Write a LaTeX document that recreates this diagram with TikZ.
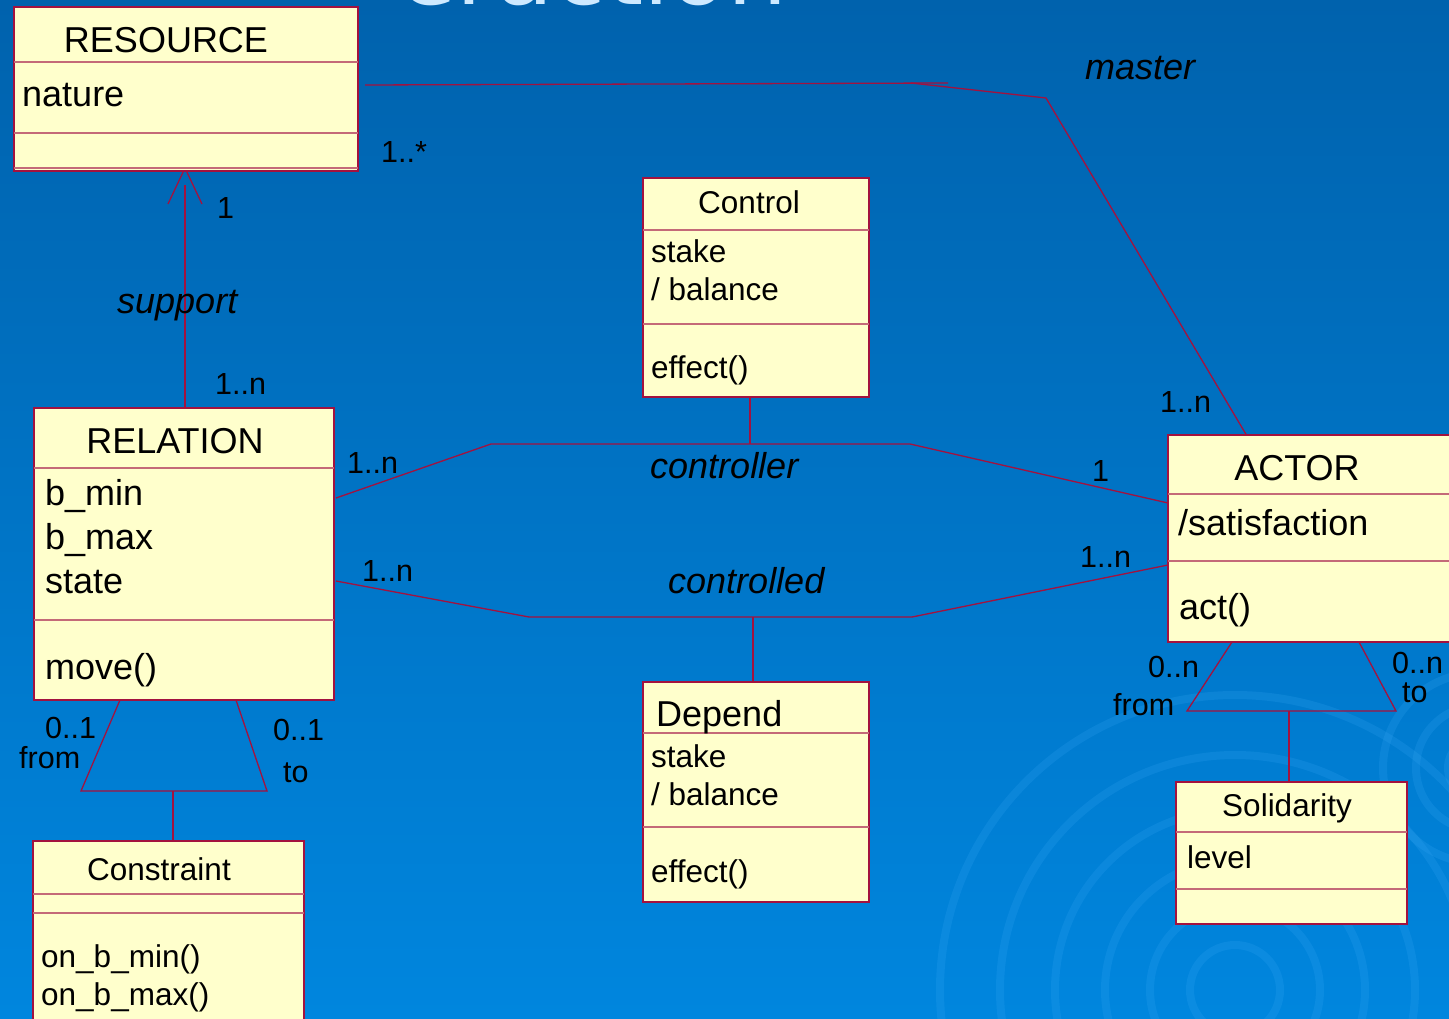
\documentclass[tikz,border=0pt]{standalone}
\usepackage{fontspec}
\setmainfont{Liberation Sans}
\newfontfamily\titlefont{DejaVu Sans}
\definecolor{umlred}{HTML}{A3123F}
\definecolor{sepred}{HTML}{C46A78}
\definecolor{umlfill}{HTML}{FFFFCC}
\definecolor{bgtop}{HTML}{0062AD}
\definecolor{bgbot}{HTML}{0086DE}
\definecolor{ringc}{HTML}{3AA8F5}
\definecolor{titlec}{HTML}{CDE9FF}
\tikzset{
  umlbox/.style={draw=umlred, fill=umlfill, line width=1.4pt, inner sep=0pt, outer sep=0pt, anchor=north west},
  sepline/.style={draw=sepred, line width=1.3pt},
  conn/.style={draw=umlred, line width=1.3pt},
  bigtxt/.style={font=\fontsize{36}{40}\selectfont, inner sep=0pt, text=black},
  midtxt/.style={font=\fontsize{31.5}{36}\selectfont, inner sep=0pt, text=black},
  labtxt/.style={font=\fontsize{30.5}{34}\selectfont, inner sep=0pt, text=black},
  roletxt/.style={font=\fontsize{36}{40}\selectfont\itshape, inner sep=0pt, text=black},
  ring/.style={draw=ringc, draw opacity=0.2, line width=8pt},
}
\begin{document}
\begin{tikzpicture}[x=1pt,y=-1pt]
\useasboundingbox (0,0) rectangle (1449,1019);
\clip (0,0) rectangle (1449,1019);
% background
\shade[top color=bgtop, bottom color=bgbot] (0,0) rectangle (1449,1019);
% decorative rings
\foreach \r in {45,85,130,180,235,295} {
  \draw[ring] (1235,990) circle [radius=\r pt];
}
\foreach \r in {30,62,95} {
  \draw[ring] (1478,768) circle [radius=\r pt];
}
% title fragment
\node[anchor=base west, inner sep=0pt, text=titlec, font=\titlefont\fontsize{95}{95}\selectfont] (title) at (398,5) {eraction};

% ---------- connector coordinates ----------
\coordinate (supA) at (185,408);
\coordinate (supB) at (185,185);
\coordinate (tip) at (185,168);
\coordinate (wl) at (168,204);
\coordinate (wr) at (202,204);

\coordinate (mA) at (365,85);
\coordinate (mB) at (948,83);
\coordinate (mC) at (911,83);
\coordinate (mD) at (1046,98);
\coordinate (mE) at (1247,436);

\coordinate (c1) at (336,498);
\coordinate (c2) at (491,444);
\coordinate (c3) at (910,444);
\coordinate (c4) at (1168,503);
\coordinate (cc1) at (750,397);
\coordinate (cc2) at (750,444);

\coordinate (d1) at (336,581);
\coordinate (d2) at (529,617);
\coordinate (d3) at (912,617);
\coordinate (d4) at (1168,565);
\coordinate (dd1) at (753,617);
\coordinate (dd2) at (753,682);

\coordinate (rt1) at (120,700);
\coordinate (rt2) at (81,791);
\coordinate (rt3) at (267,791);
\coordinate (rt4) at (236,700);
\coordinate (rl1) at (173,791);
\coordinate (rl2) at (173,841);

\coordinate (at1) at (1232,642);
\coordinate (at2) at (1187,711);
\coordinate (at3) at (1396,711);
\coordinate (at4) at (1359,642);
\coordinate (al1) at (1289,711);
\coordinate (al2) at (1289,782);

% ---------- connectors ----------
\draw[conn] (supA) -- (supB);
\draw[conn] (wl) -- (tip) -- (wr);
\draw[conn] (mA) -- (mB);
\draw[conn] (mC) -- (mD) -- (mE);
\draw[conn] (c1) -- (c2) -- (c3) -- (c4);
\draw[conn] (cc1) -- (cc2);
\draw[conn] (d1) -- (d2) -- (d3) -- (d4);
\draw[conn] (dd1) -- (dd2);
\draw[conn] (rt1) -- (rt2) -- (rt3) -- (rt4);
\draw[conn] (rl1) -- (rl2);
\draw[conn] (at1) -- (at2) -- (at3) -- (at4);
\draw[conn] (al1) -- (al2);

% ---------- RESOURCE ----------
\node[umlbox, minimum width=344pt, minimum height=164pt] (res) at (14,7) {};
\draw[sepline] (14,62) -- (358,62);
\draw[sepline] (14,133) -- (358,133);
\draw[sepline] (14,168) -- (358,168);
\node[bigtxt, anchor=base] (resT) at (166,53) {RESOURCE};
\node[bigtxt, anchor=base west] (resA) at (22,107) {nature};

% ---------- RELATION ----------
\node[umlbox, minimum width=300pt, minimum height=292pt] (rel) at (34,408) {};
\draw[sepline] (34,468) -- (334,468);
\draw[sepline] (34,620) -- (334,620);
\node[bigtxt, anchor=base] (relT) at (175,453) {RELATION};
\node[bigtxt, anchor=base west] (relA1) at (45,505) {b\_min};
\node[bigtxt, anchor=base west] (relA2) at (45,549) {b\_max};
\node[bigtxt, anchor=base west] (relA3) at (45,593) {state};
\node[bigtxt, anchor=base west] (relO1) at (45,679) {move()};

% ---------- Control ----------
\node[umlbox, minimum width=226pt, minimum height=219pt] (ctl) at (643,178) {};
\draw[sepline] (643,230) -- (869,230);
\draw[sepline] (643,324) -- (869,324);
\node[midtxt, anchor=base] (ctlT) at (749,214) {Control};
\node[midtxt, anchor=base west] (ctlA1) at (651,263) {stake};
\node[midtxt, anchor=base west] (ctlA2) at (651,301) {/ balance};
\node[midtxt, anchor=base west] (ctlO1) at (651,378) {effect()};

% ---------- Depend ----------
\node[umlbox, minimum width=226pt, minimum height=220pt] (dep) at (643,682) {};
\draw[sepline] (643,733) -- (869,733);
\draw[sepline] (643,827) -- (869,827);
\node[bigtxt, anchor=base west] (depT) at (656,726) {Depend};
\node[midtxt, anchor=base west] (depA1) at (651,767) {stake};
\node[midtxt, anchor=base west] (depA2) at (651,805) {/ balance};
\node[midtxt, anchor=base west] (depO1) at (651,882) {effect()};

% ---------- ACTOR ----------
\node[umlbox, minimum width=300pt, minimum height=207pt] (act) at (1168,435) {};
\draw[sepline] (1168,494) -- (1468,494);
\draw[sepline] (1168,561) -- (1468,561);
\node[bigtxt, anchor=base] (actT) at (1297,480) {ACTOR};
\node[bigtxt, anchor=base west] (actA1) at (1178,535) {/satisfaction};
\node[bigtxt, anchor=base west] (actO1) at (1179,619) {act()};

% ---------- Solidarity ----------
\node[umlbox, minimum width=231pt, minimum height=142pt] (sol) at (1176,782) {};
\draw[sepline] (1176,832) -- (1407,832);
\draw[sepline] (1176,889) -- (1407,889);
\node[midtxt, anchor=base] (solT) at (1287,816) {Solidarity};
\node[midtxt, anchor=base west] (solA1) at (1187,868) {level};

% ---------- Constraint ----------
\node[umlbox, minimum width=271pt, minimum height=200pt] (con) at (33,841) {};
\draw[sepline] (33,894) -- (304,894);
\draw[sepline] (33,913) -- (304,913);
\node[midtxt, anchor=base] (conT) at (159,880) {Constraint};
\node[midtxt, anchor=base west] (conO1) at (41,967) {on\_b\_min()};
\node[midtxt, anchor=base west] (conO2) at (41,1005) {on\_b\_max()};

% ---------- labels ----------
\node[labtxt, anchor=base west] (l1) at (381,163) {1..*};
\node[labtxt, anchor=base west] (l2) at (217,219) {1};
\node[roletxt, anchor=base west] (l3) at (117,313) {support};
\node[labtxt, anchor=base west] (l4) at (215,394) {1..n};
\node[roletxt, anchor=base west] (l5) at (1085,80) {master};
\node[labtxt, anchor=base west] (l6) at (1160,412) {1..n};
\node[labtxt, anchor=base west] (l7) at (347,473) {1..n};
\node[roletxt, anchor=base west] (l8) at (650,478) {controller};
\node[labtxt, anchor=base west] (l9) at (1092,481) {1};
\node[labtxt, anchor=base west] (l10) at (362,581) {1..n};
\node[roletxt, anchor=base west] (l11) at (668,593) {controlled};
\node[labtxt, anchor=base west] (l12) at (1080,567) {1..n};
\node[labtxt, anchor=base west] (l13) at (45,738) {0..1};
\node[labtxt, anchor=base west] (l14) at (19,768) {from};
\node[labtxt, anchor=base west] (l15) at (273,740) {0..1};
\node[labtxt, anchor=base west] (l16) at (283,782) {to};
\node[labtxt, anchor=base west] (l17) at (1148,677) {0..n};
\node[labtxt, anchor=base west] (l18) at (1113,715) {from};
\node[labtxt, anchor=base west] (l19) at (1392,673) {0..n};
\node[labtxt, anchor=base west] (l20) at (1402,702) {to};
\end{tikzpicture}
\end{document}
